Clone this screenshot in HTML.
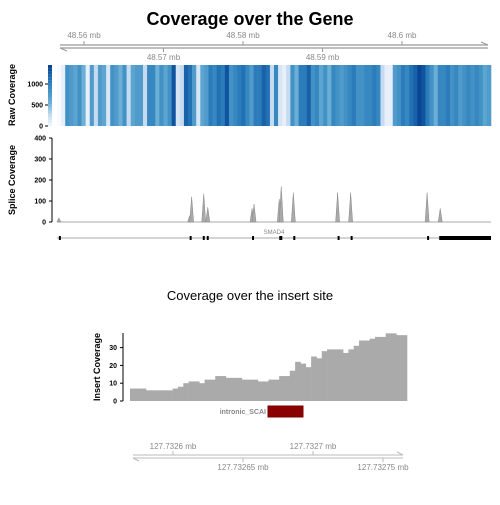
<!DOCTYPE html>
<html><head><meta charset="utf-8"><style>
body{margin:0;background:#fff;font-family:"Liberation Sans",sans-serif}
svg text{font-family:"Liberation Sans",sans-serif}
</style></head><body>
<svg id="c" width="500" height="500" xmlns="http://www.w3.org/2000/svg">
<text x="250" y="25" text-anchor="middle" font-size="18" font-weight="bold">Coverage over the Gene</text>
<text x="250" y="300" text-anchor="middle" font-size="13">Coverage over the insert site</text>
<text transform="translate(15,95) rotate(-90)" text-anchor="middle" font-size="9" font-weight="bold">Raw Coverage</text>
<text transform="translate(15,180) rotate(-90)" text-anchor="middle" font-size="9" font-weight="bold">Splice Coverage</text>
<text transform="translate(100,367) rotate(-90)" text-anchor="middle" font-size="9" font-weight="bold">Insert Coverage</text>
<text x="274" y="234" text-anchor="middle" font-size="6" fill="#888">SMAD4</text>
<text x="266" y="414" text-anchor="end" font-size="7" font-weight="bold" fill="#888">intronic_SCAI</text>
<g id="g"></g>
</svg>
<script>
const topTicks=[48.56,48.57,48.58,48.59,48.6];
const rawVals=[0,100,900,800,700,900,600,100,800,300,800,700,200,900,800,600,900,300,700,800,800,300,1000,1000,600,900,700,900,1400,200,300,1300,1200,800,200,700,800,1100,1000,1200,1100,1400,900,1000,1100,1200,1000,800,1100,1100,1300,1200,300,1000,200,100,300,900,600,1100,1100,1300,900,1000,700,900,600,1000,900,800,900,1000,1100,900,900,1000,1000,1100,1000,300,100,100,800,900,1100,1000,1200,1300,1500,1400,1100,900,600,1000,1000,1100,900,1000,800,900,1000,900,1000,900,700,800];
const splicePos=[48.55684,48.57329,48.57354,48.57506,48.57557,48.58114,48.58139,48.58456,48.58481,48.58633,48.5919,48.59354,48.60316,48.60481];
const spliceVal=[20,30,120,135,70,65,85,110,170,140,140,140,140,65];
const spliceTicks=[0,100,200,300,400];
const rawTicks=[0,500,1000];
const exonStart=[48.55684,48.57329,48.57494,48.57544,48.58114,48.58456,48.58633,48.5919,48.59354,48.60316,48.60468];
const exonEnd=[48.55709,48.57354,48.57519,48.57569,48.58139,48.58494,48.58658,48.59215,48.59379,48.60341,48.61120];
const insertVals=[7,7,7,6,6,6,6,6,7,8,10,11,11,10,12,12,14,14,13,13,13,12,12,12,11,11,12,12,14,14,17,22,21,19,25,24,28,29,29,29,27,29,31,34,34,35,36,36,38,38,37,37];
const insertTicks=[0,10,20,30];
const botTicks=[127.7326,127.73265,127.7327,127.73275];
const NS='http://www.w3.org/2000/svg',G=document.getElementById('g');
function mk(t,a,txt){const e=document.createElementNS(NS,t);for(const k in a)e.setAttribute(k,a[k]);if(txt!=null)e.textContent=txt;G.appendChild(e);return e;}
const xg=v=>84+(v-48.56)*7950;
let e=mk('line',{x1:60,y1:45,x2:488,y2:45,stroke:'#999','stroke-width':1.3});

e=mk('line',{x1:60,y1:48,x2:488,y2:48,stroke:'#999','stroke-width':1.3});

mk('polyline',{points:'481,42 488,45',stroke:'#999',fill:'none'});mk('polyline',{points:'67,51 60,48',stroke:'#999',fill:'none'});
topTicks.forEach((t,i)=>{const x=xg(t),up=i%2==0;
 mk('line',{x1:x,y1:up?41:48,x2:x,y2:up?45:52,stroke:'#999'});
 e=mk('text',{x:x,y:up?38:60,'text-anchor':'middle','font-size':8,fill:'#888'},t+' mb');
 });
const stops=[[247,251,255],[198,219,239],[107,174,214],[66,146,198],[33,113,181],[8,69,148]];
const blue=v=>{let f=Math.min(v/1500,1)*(stops.length-1);const i=Math.min(Math.floor(f),stops.length-2),t=f-i;
 const c=stops[i].map((a,k)=>Math.round(a+(stops[i+1][k]-a)*t));return `rgb(${c})`};
const sw=(491-57)/rawVals.length;
rawVals.forEach((v,i)=>{e=mk('rect',{x:57+i*sw,y:65,width:sw+0.3,height:61,fill:blue(v)});
 });
for(let i=0;i<20;i++)mk('rect',{x:48,y:65+i*3.05,width:4,height:3.1,fill:blue(1500-i*75)});
const yr=v=>126-v*0.042;
rawTicks.forEach(t=>{mk('line',{x1:45,y1:yr(t),x2:48,y2:yr(t),stroke:'#000'});
 e=mk('text',{x:43,y:yr(t)+2.5,'text-anchor':'end','font-size':7,'font-weight':'bold'},t);
 });
const ys=v=>222-v*0.21;
mk('line',{x1:52,y1:ys(0),x2:52,y2:ys(400),stroke:'#000'});
spliceTicks.forEach(t=>{mk('line',{x1:49,y1:ys(t),x2:52,y2:ys(t),stroke:'#000'});
 e=mk('text',{x:46,y:ys(t)+2.5,'text-anchor':'end','font-size':7,'font-weight':'bold'},t);
 });
mk('line',{x1:57,y1:222,x2:491,y2:222,stroke:'#aaa'});
splicePos.forEach((p,i)=>{const x=xg(p);
 e=mk('polygon',{points:`${x-2},222 ${x},${ys(spliceVal[i])} ${x+2},222`,fill:'#aaa',stroke:'#888','stroke-width':0.5});
 });
e=mk('line',{x1:57,y1:238,x2:491,y2:238,stroke:'#aaa','stroke-width':1});

exonStart.forEach((s,i)=>{const w=xg(exonEnd[i])-xg(s);
 e=mk('rect',{x:xg(s),y:236,width:Math.max(w,1.5),height:4,fill:'#000'});
 });
const ix0=130,ix1=407,yi=v=>401-v*1.78;
mk('line',{x1:123,y1:yi(0),x2:123,y2:333,stroke:'#000'});
insertTicks.forEach(t=>{mk('line',{x1:120,y1:yi(t),x2:123,y2:yi(t),stroke:'#000'});
 e=mk('text',{x:117,y:yi(t)+2.5,'text-anchor':'end','font-size':7,'font-weight':'bold'},t);
 });
const bw=(ix1-ix0)/insertVals.length;
insertVals.forEach((v,i)=>{e=mk('rect',{x:ix0+i*bw,y:yi(v),width:bw+0.3,height:401-yi(v),fill:'#aaa'});
 });
e=mk('rect',{x:268,y:406,width:35,height:11,fill:'#8b0000',stroke:'#700'});

const xb=v=>173+(v-127.7326)*1400000;
mk('line',{x1:133,y1:455,x2:403,y2:455,stroke:'#bbb'});mk('line',{x1:133,y1:458,x2:403,y2:458,stroke:'#bbb'});
mk('polyline',{points:'397,452 403,455',stroke:'#bbb',fill:'none'});mk('polyline',{points:'139,461 133,458',stroke:'#bbb',fill:'none'});
botTicks.forEach((t,i)=>{const x=xb(t),up=i%2==0;
 mk('line',{x1:x,y1:up?451:458,x2:x,y2:up?455:462,stroke:'#bbb'});
 e=mk('text',{x:x,y:up?449:470,'text-anchor':'middle','font-size':8,fill:'#888'},t+' mb');
 });
</script>
</body></html>
